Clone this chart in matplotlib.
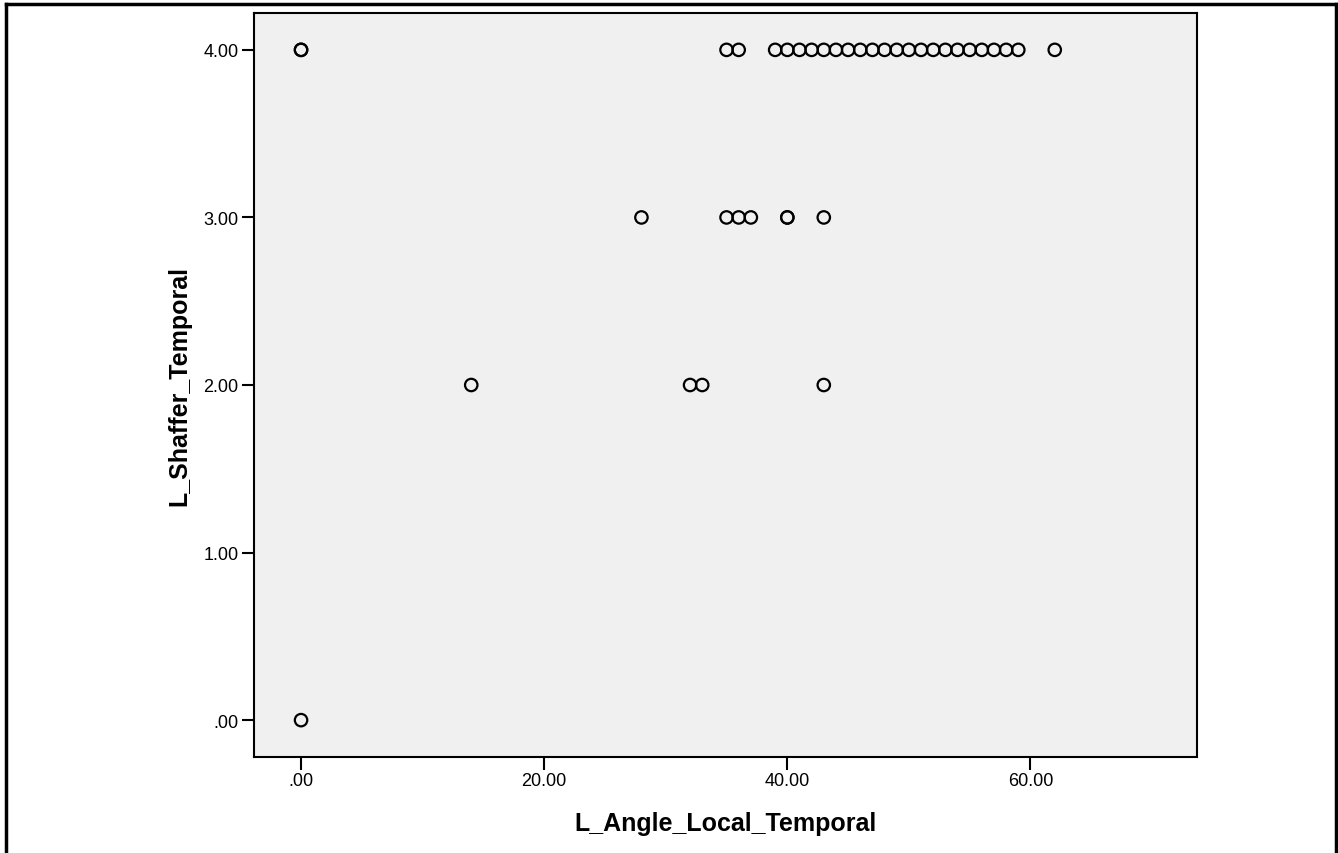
import numpy as np
import matplotlib
matplotlib.use("Agg")
import matplotlib.pyplot as plt
from matplotlib.lines import Line2D

plt.rcParams['font.family'] = ['Liberation Sans', 'DejaVu Sans']

# data (x = angle, y = Shaffer grade)
angle_grade4 = [0, 0, 35, 36] + list(range(39, 60)) + [62]
angle_grade3 = [28, 35, 36, 37, 40, 40, 43]
angle_grade2 = [14, 32, 33, 43]
angle_grade0 = [0]

x = np.array(angle_grade4 + angle_grade3 + angle_grade2 + angle_grade0, dtype=float)
y = np.array([4] * len(angle_grade4) + [3] * len(angle_grade3)
             + [2] * len(angle_grade2) + [0] * len(angle_grade0), dtype=float)

fig = plt.figure(figsize=(13.38, 8.54), dpi=100)
ax = fig.add_axes([254 / 1338, 1 - 758 / 854, (1197 - 254) / 1338, (758 - 14) / 854])
ax.set_facecolor('#f0f0f0')

ax.scatter(x, y, s=80, facecolors='none', edgecolors='black', linewidths=1.6, zorder=3)

ax.set_xlim(-3.87, 73.7)
ax.set_ylim(-0.22, 4.22)
ax.set_xticks([0, 20, 40, 60])
ax.set_xticklabels(['.00', '20.00', '40.00', '60.00'])
ax.set_yticks([0, 1, 2, 3, 4])
ax.set_yticklabels(['.00', '1.00', '2.00', '3.00', '4.00'])
ax.tick_params(direction='out', length=9, width=1.5, labelsize=13, pad=2)
for sp in ax.spines.values():
    sp.set_linewidth(1.5)

ax.set_xlabel('L_Angle_Local_Temporal', fontsize=18, fontweight='bold', labelpad=16)
ax.set_ylabel('L_Shaffer_Temporal', fontsize=18, fontweight='bold', labelpad=9)

# frame lines around the figure (left, top, right)
fig.add_artist(Line2D([6 / 1338, 6 / 1338], [0, 1 - 5 / 854], color='black', lw=2.5, transform=fig.transFigure))
fig.add_artist(Line2D([6 / 1338, 1336 / 1338], [1 - 5 / 854, 1 - 5 / 854], color='black', lw=2.5, transform=fig.transFigure))
fig.add_artist(Line2D([1336 / 1338, 1336 / 1338], [0, 1 - 5 / 854], color='black', lw=2.5, transform=fig.transFigure))

fig.savefig('out.png', dpi=100)
